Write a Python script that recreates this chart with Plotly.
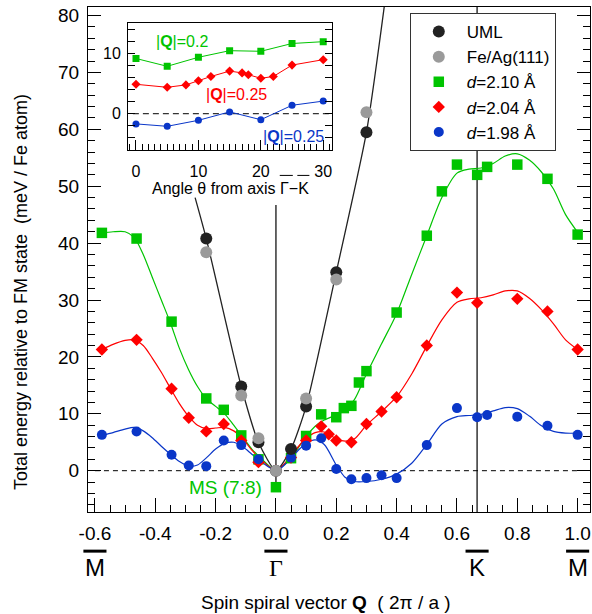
import plotly.graph_objects as go

# ---------------- data ----------------
# marker data, main panel
uml_q = [-0.231, -0.115, -0.058, 0.0, 0.05, 0.1, 0.2, 0.3]
uml_e = [40.8, 14.8, 5.0, 0.0, 3.8, 11.3, 34.9, 59.5]

feag_q = [-0.231, -0.115, -0.058, 0.0, 0.1, 0.2, 0.3]
feag_e = [38.4, 13.2, 5.7, 0.0, 12.7, 33.6, 63.0]

d210_q = [-0.577, -0.462, -0.346, -0.231, -0.173, -0.115, -0.058, 0.0, 0.05, 0.1,
          0.15, 0.2, 0.225, 0.25, 0.275, 0.3, 0.4, 0.5, 0.55, 0.6, 0.667, 0.7, 0.8, 0.9, 1.0]
d210_e = [41.8, 40.8, 26.2, 12.7, 10.7, 6.2, 2.0, -2.9, 2.2, 6.1,
          9.9, 9.4, 11.0, 11.4, 15.5, 17.5, 27.8, 41.3, 49.1, 53.8, 52.0, 53.4, 53.8, 51.3, 41.5]

d204_q = [-0.577, -0.462, -0.346, -0.289, -0.231, -0.173, -0.115, -0.058, 0.0, 0.05, 0.1,
          0.15, 0.175, 0.2, 0.25, 0.3, 0.35, 0.4, 0.5, 0.6, 0.667, 0.8, 0.9, 1.0]
d204_e = [21.3, 23.0, 14.4, 9.3, 6.9, 8.2, 5.3, 1.5, 0.0, 2.3, 5.3,
          7.8, 6.4, 5.3, 5.0, 8.2, 10.4, 12.9, 22.0, 31.3, 29.5, 30.2, 28.0, 21.3]

d198_q = [-0.577, -0.462, -0.346, -0.289, -0.231, -0.173, -0.115, -0.058, 0.0, 0.05, 0.1,
          0.15, 0.2, 0.25, 0.3, 0.35, 0.4, 0.5, 0.6, 0.667, 0.7, 0.8, 0.9, 1.0]
d198_e = [6.3, 6.9, 2.8, 0.9, 0.8, 5.3, 4.5, 2.0, 0.0, 2.3, 4.4,
          5.7, 0.3, -1.5, -1.3, -0.8, -1.3, 4.5, 11.0, 9.4, 9.8, 9.5, 7.9, 6.3]

# smooth guide curves
uml_curve_q = [-0.268, -0.231, -0.115, -0.058, 0.0, 0.05, 0.1, 0.2, 0.3, 0.37]
uml_curve_e = [48.0, 40.8, 14.8, 5.0, 0.0, 3.8, 11.3, 34.9, 59.5, 86.0]

curve_q = [-0.577, -0.54, -0.50, -0.47, -0.44, -0.41, -0.38, -0.35, -0.32, -0.29, -0.26,
           -0.23, -0.20, -0.17, -0.14, -0.11, -0.08, -0.05, -0.02, 0.0,
           0.02, 0.05, 0.08, 0.10, 0.13, 0.16, 0.20, 0.23, 0.26, 0.30, 0.35, 0.40,
           0.45, 0.50, 0.55, 0.60, 0.64, 0.68, 0.72, 0.76, 0.80, 0.84, 0.88, 0.92, 0.96, 1.0]
curve_210 = [41.8, 42.0, 42.0, 41.0, 38.0, 34.0, 30.0, 26.0, 21.5, 17.8, 14.8,
             12.6, 11.3, 10.0, 8.0, 5.9, 3.8, 2.2, 0.7, 0.0,
             0.7, 2.2, 4.5, 6.0, 7.8, 8.9, 9.8, 10.7, 12.5, 17.0, 22.3, 27.6,
             34.5, 41.3, 48.0, 52.3, 53.0, 53.2, 54.0, 55.3, 55.7, 54.6, 52.5, 49.5, 45.0, 41.9]
curve_204 = [21.3, 22.2, 22.9, 23.0, 22.0, 19.8, 17.3, 14.5, 11.8, 9.6, 8.0,
             7.4, 7.5, 7.6, 7.0, 5.6, 3.6, 2.0, 0.6, 0.0,
             0.8, 2.6, 4.6, 5.7, 6.7, 6.8, 5.6, 5.2, 5.6, 8.0, 10.4, 13.0,
             17.0, 21.9, 26.5, 29.6, 30.2, 30.4, 30.9, 31.6, 31.6, 30.3, 28.3, 25.8, 23.0, 21.3]
curve_198 = [6.2, 6.7, 7.3, 7.6, 7.0, 5.8, 4.3, 2.9, 1.6, 0.8, 1.0,
             2.3, 3.8, 4.8, 5.0, 4.2, 2.9, 1.6, 0.5, 0.0,
             0.6, 2.2, 3.9, 4.8, 5.4, 4.6, 1.0, -1.2, -1.9, -1.9, -1.5, -0.6,
             1.3, 4.6, 8.2, 9.5, 9.7, 9.9, 10.5, 11.1, 10.9, 9.6, 7.9, 6.9, 6.6, 6.6]

# inset data
ins_g_ang = [0, 5, 10, 15, 20, 25, 30]
ins_g_e = [9.2, 7.9, 9.4, 10.5, 10.4, 11.7, 12.0]
ins_r_ang = [0, 5, 8, 10, 12, 15, 17, 18, 20, 22, 25, 30]
ins_r_e = [4.9, 4.4, 4.8, 5.5, 6.2, 7.1, 6.8, 6.5, 5.9, 6.2, 8.1, 9.0]
ins_b_ang = [0, 5, 10, 15, 20, 25, 30]
ins_b_e = [-1.7, -2.1, -1.1, 0.3, -1.0, 1.4, 2.1]

# axes ticks / labels
x_tickvals = [-0.6, -0.4, -0.2, 0.0, 0.2, 0.4, 0.6, 0.8, 1.0]
x_ticktext = ["-0.6", "-0.4", "-0.2", "0.0", "0.2", "0.4", "0.6", "0.8", "1.0"]
y_tickvals = [0, 10, 20, 30, 40, 50, 60, 70, 80]
y_ticktext = ["0", "10", "20", "30", "40", "50", "60", "70", "80"]
ins_x_tickvals = [0, 10, 20, 30]
ins_y_tickvals = [-4, -2, 0, 2, 4, 6, 8, 10, 12, 14]
ins_y_ticktext = ["", "", "0", "", "", "", "", "10", "", ""]
sym_q = [-0.6, 0.0, 0.6667, 1.0]
sym_labels = ["M", "Γ", "K", "M"]

# ---------------- styles ----------------
GREEN = "#00c400"
RED = "#ff0000"
BLUE = "#0a36c8"
BLACK = "#222222"
GREY = "#9a9a9a"
FONT = "Liberation Sans, Arial, Helvetica, sans-serif"

XR = [-0.623, 1.041]
YR = [-7.26, 81.5]

fig = go.Figure()

# guide curves
for cq, ce, col in [(curve_q, curve_210, GREEN), (curve_q, curve_204, RED), (curve_q, curve_198, BLUE)]:
    fig.add_trace(go.Scatter(x=cq, y=ce, mode="lines", line=dict(color=col, width=1.2, shape="spline", smoothing=0.8),
                             showlegend=False, hoverinfo="skip"))
fig.add_trace(go.Scatter(x=uml_curve_q, y=uml_curve_e, mode="lines",
                         line=dict(color=BLACK, width=1.3, shape="spline", smoothing=0.6),
                         showlegend=False, hoverinfo="skip"))

# markers
fig.add_trace(go.Scatter(x=d210_q, y=d210_e, mode="markers", name="<i>d</i>=2.10 Å", legendrank=3,
                         marker=dict(symbol="square", size=10.5, color=GREEN)))
fig.add_trace(go.Scatter(x=d204_q, y=d204_e, mode="markers", name="<i>d</i>=2.04 Å", legendrank=4,
                         marker=dict(symbol="diamond", size=9.5, color=RED)))
fig.add_trace(go.Scatter(x=d198_q, y=d198_e, mode="markers", name="<i>d</i>=1.98 Å", legendrank=5,
                         marker=dict(symbol="circle", size=10, color=BLUE)))
fig.add_trace(go.Scatter(x=uml_q, y=uml_e, mode="markers", name="UML", legendrank=1,
                         marker=dict(symbol="circle", size=12, color=BLACK)))
fig.add_trace(go.Scatter(x=feag_q, y=feag_e, mode="markers", name="Fe/Ag(111)", legendrank=2,
                         marker=dict(symbol="circle", size=12, color=GREY)))

# inset
for ang, e, col, sym, sz in [(ins_g_ang, ins_g_e, GREEN, "square", 7),
                             (ins_r_ang, ins_r_e, RED, "diamond", 7),
                             (ins_b_ang, ins_b_e, BLUE, "circle", 7)]:
    fig.add_trace(go.Scatter(x=ang, y=e, mode="lines+markers", xaxis="x2", yaxis="y2",
                             line=dict(color=col, width=1), marker=dict(symbol=sym, size=sz, color=col),
                             showlegend=False, hoverinfo="skip"))

axis_common = dict(showgrid=False, zeroline=False, showline=True, linecolor="black", linewidth=1,
                   ticks="inside", tickcolor="black", tickwidth=1)

fig.update_layout(
    width=592, height=614,
    margin=dict(l=88, r=2, t=7, b=102),
    paper_bgcolor="white", plot_bgcolor="white",
    font=dict(family=FONT, color="black", size=18),
    xaxis=dict(**axis_common, range=XR, domain=[0, 1], mirror=True,
               tickmode="array", tickvals=x_tickvals, ticktext=x_ticktext, ticklen=14,
               minor=dict(dtick=0.05, tick0=0, ticks="inside", ticklen=7, tickcolor="black"),
               tickfont=dict(size=19), ticklabelstandoff=4),
    yaxis=dict(**axis_common, range=YR, domain=[0, 1], mirror="ticks",
               tickmode="array", tickvals=y_tickvals, ticktext=y_ticktext, ticklen=13,
               minor=dict(dtick=2, tick0=0, ticks="inside", ticklen=7, tickcolor="black"),
               tickfont=dict(size=19), ticklabelstandoff=4),
    xaxis2=dict(**axis_common, domain=[0.0797, 0.486], anchor="y2", range=[-1.28, 31.4], mirror=True,
                tickmode="array", tickvals=ins_x_tickvals, ticklen=10,
                minor=dict(dtick=1, tick0=0, ticks="inside", ticklen=6, tickcolor="black"),
                tickfont=dict(size=16), ticklabelstandoff=7),
    yaxis2=dict(**axis_common, domain=[0.7174, 0.969], anchor="x2", range=[-6.0, 15.17], mirror="ticks",
                tickmode="array", tickvals=ins_y_tickvals, ticktext=ins_y_ticktext, ticklen=7,
                tickfont=dict(size=16), ticklabelstandoff=3),
    legend=dict(x=0.641, y=0.988, xanchor="left", yanchor="top", bgcolor="white",
                bordercolor="#333333", borderwidth=1, font=dict(size=17), itemwidth=46,
                tracegroupgap=0),
)

shapes = []
# zero dashed line, Gamma and K vertical lines
shapes.append(dict(type="line", xref="x", yref="y", x0=-0.6, x1=1.0, y0=0, y1=0,
                   line=dict(color="black", width=1, dash="5px,4px"), layer="below"))
shapes.append(dict(type="line", xref="x", yref="y", x0=0, x1=0, y0=-2.9, y1=46.7,
                   line=dict(color="black", width=1.2), layer="below"))
shapes.append(dict(type="line", xref="x", yref="y", x0=sym_q[2], x1=sym_q[2], y0=YR[0], y1=YR[1],
                   line=dict(color="black", width=1.2), layer="below"))
# inset zero dashed line
shapes.append(dict(type="line", xref="x2", yref="y2", x0=-0.5, x1=31.4, y0=0, y1=0,
                   line=dict(color="black", width=1, dash="6px,4px"), layer="between"))
# overbars above symmetry-point labels
for q in sym_q:
    px = (q - XR[0]) / (XR[1] - XR[0])
    shapes.append(dict(type="line", xref="paper", yref="paper", x0=px - 0.023, x1=px + 0.023,
                       y0=-0.0775, y1=-0.0775, line=dict(color="black", width=3)))
# stray overbars in inset label (as in original)
for a, b in [(0.382, 0.408), (0.417, 0.441)]:
    shapes.append(dict(type="line", xref="paper", yref="paper", x0=a, x1=b, y0=0.6665, y1=0.6665,
                       line=dict(color="black", width=1)))
fig.update_layout(shapes=shapes)

ann = []
for q, lab in zip(sym_q, sym_labels):
    fam = "Liberation Serif, Times New Roman, serif" if lab == "Γ" else FONT
    ann.append(dict(x=q, y=-0.11, xref="x", yref="paper", text=lab, showarrow=False,
                    font=dict(size=24, family=fam), xanchor="center", yanchor="middle"))
ann.append(dict(x=0.474, y=-0.180, xref="paper", yref="paper",
                text="Spin spiral vector <b>Q</b>  ( 2π / a )", showarrow=False,
                font=dict(size=19), xanchor="center", yanchor="middle"))
ann.append(dict(x=-0.133, y=0.436, xref="paper", yref="paper", textangle=-90,
                text="Total energy relative to FM state  (meV / Fe atom)", showarrow=False,
                font=dict(size=18), xanchor="center", yanchor="middle"))
ann.append(dict(x=-0.04, y=-3.0, xref="x", yref="y", text="MS (7:8)", showarrow=False,
                font=dict(size=19, color=GREEN), xanchor="right", yanchor="middle"))
ann.append(dict(x=0.283, y=0.6400, xref="paper", yref="paper", text="Angle θ from axis Γ−K",
                showarrow=False, font=dict(size=16), xanchor="center", yanchor="middle"))
ann.append(dict(x=7.3, y=12.05, xref="x2", yref="y2", text="|<b>Q</b>|=0.2", showarrow=False,
                font=dict(size=16, color=GREEN), xanchor="center", yanchor="middle"))
ann.append(dict(x=16.1, y=3.17, xref="x2", yref="y2", text="|<b>Q</b>|=0.25", showarrow=False,
                font=dict(size=16, color=RED), xanchor="center", yanchor="middle"))
ann.append(dict(x=25.2, y=-3.8, xref="x2", yref="y2", text="|<b>Q</b>|=0.25", showarrow=False,
                font=dict(size=16, color=BLUE), xanchor="center", yanchor="middle"))
fig.update_layout(annotations=ann)

fig.write_html("out.html", config={"displayModeBar": False},
               post_script="document.body.style.margin='0';document.body.style.padding='0';")
